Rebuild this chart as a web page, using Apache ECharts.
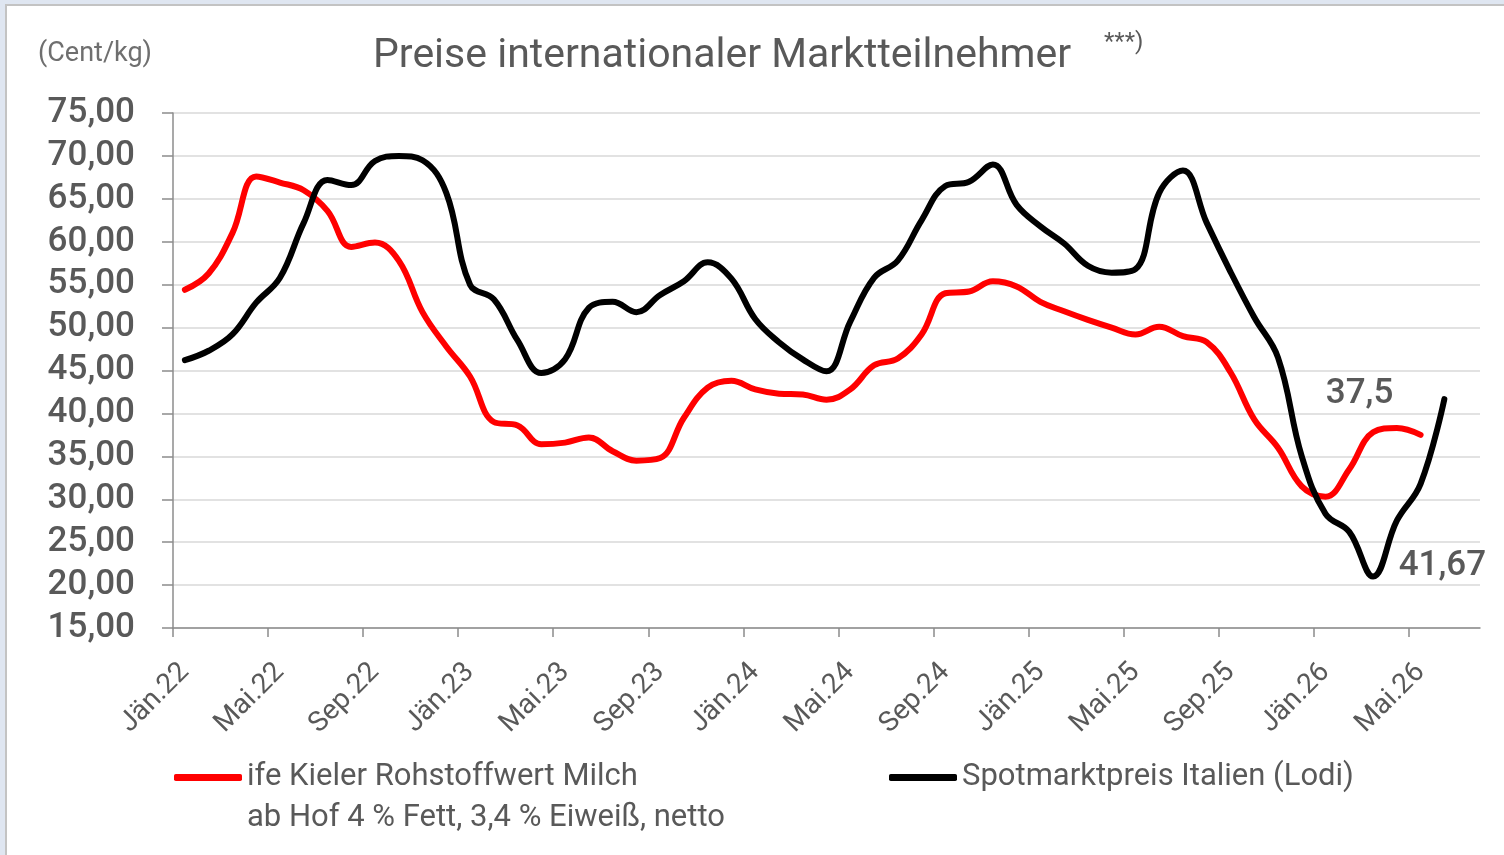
<!DOCTYPE html>
<html>
<head>
<meta charset="utf-8">
<title>Preise internationaler Marktteilnehmer</title>
<script src="https://cdn.jsdelivr.net/npm/echarts@6/dist/echarts.min.js"></script>
<style>
html, body { margin: 0; padding: 0; background: #dfe6f1; }
#frame { position: absolute; left: 5px; top: 4px; width: 1499px; height: 851px; background: #fff;
         border-left: 2px solid #c3c3c3; border-top: 2px solid #c3c3c3; box-sizing: border-box; }
#main { position: absolute; left: 0; top: 0; width: 1504px; height: 855px; }
</style>
</head>
<body>
<div id="frame"></div>
<div id="main"></div>
<script>
var myChart = echarts.init(document.getElementById('main'));

// Monate (Achse), ein Punkt je Monat in der Monatsmitte
var months = [
    'Jän.22', 'Feb.22', 'Mär.22', 'Apr.22', 'Mai.22', 'Jun.22', 'Jul.22', 'Aug.22', 'Sep.22', 'Okt.22', 'Nov.22', 'Dez.22',
    'Jän.23', 'Feb.23', 'Mär.23', 'Apr.23', 'Mai.23', 'Jun.23', 'Jul.23', 'Aug.23', 'Sep.23', 'Okt.23', 'Nov.23', 'Dez.23',
    'Jän.24', 'Feb.24', 'Mär.24', 'Apr.24', 'Mai.24', 'Jun.24', 'Jul.24', 'Aug.24', 'Sep.24', 'Okt.24', 'Nov.24', 'Dez.24',
    'Jän.25', 'Feb.25', 'Mär.25', 'Apr.25', 'Mai.25', 'Jun.25', 'Jul.25', 'Aug.25', 'Sep.25', 'Okt.25', 'Nov.25', 'Dez.25',
    'Jän.26', 'Feb.26', 'Mär.26', 'Apr.26', 'Mai.26', 'Jun.26', 'Jul.26'
];

// ife Kieler Rohstoffwert Milch (Cent/kg)
var kieler = [
    54.4, 56.3, 61.0, 67.6, 66.9, 66.0, 63.6, 59.4, 59.9, 57.8, 51.8, 47.8,
    44.3, 39.0, 38.6, 36.4, 36.6, 37.2, 35.6, 34.5, 34.8, 39.5, 43.0, 43.8,
    42.8, 42.3, 42.2, 41.6, 42.8, 45.6, 46.4, 49.2, 54.0, 54.2, 55.4, 54.8,
    53.0, 51.9, 50.9, 50.0, 49.2, 50.1, 49.0, 48.3, 44.8, 39.3, 36.0, 31.5,
    30.3, 33.5, 37.8, 38.3, 37.5
];

// Spotmarktpreis Italien (Lodi) (Cent/kg)
var lodi = [
    46.2, 47.3, 49.2, 52.9, 55.8, 62.2, 67.2, 66.6, 69.4, 70.0, 69.5, 65.7,
    55.0, 53.3, 48.5, 44.7, 46.3, 52.3, 53.0, 51.8, 53.8, 55.4, 57.6, 55.7,
    51.0, 48.3, 46.3, 44.9, 50.7, 55.8, 57.8, 62.5, 66.5, 67.0, 69.0, 64.3,
    61.8, 59.8, 57.2, 56.4, 56.8, 65.7, 68.3, 62.2, 56.5, 51.2, 46.5, 35.0,
    28.3, 26.2, 21.0, 27.5, 31.8, 41.67
];

var kielerName = 'ife Kieler Rohstoffwert Milch\nab Hof 4 % Fett, 3,4 % Eiweiß, netto';
var lodiName = 'Spotmarktpreis Italien (Lodi)';

var fontFamily = 'Roboto';
var textGrey = '#595959';
var axisGrey = '#8c8c8c';

// Striche jeden 4. Monat, Beschriftung in der Monatsmitte
var tickValues = months.map(function (m, i) { return i; }).filter(function (i) { return i % 4 === 0; });
var labelValues = tickValues.map(function (i) { return i + 0.5; });

function toPoints(values, labelOffset) {
    return values.map(function (v, i) {
        var p = { value: [i + 0.5, v] };
        if (i === values.length - 1) {
            p.label = {
                show: true,
                position: 'inside',
                offset: labelOffset,
                formatter: function (params) {
                    return String(params.value[1]).replace('.', ',');
                },
                fontFamily: fontFamily,
                fontWeight: 500,
                fontSize: 35,
                color: textGrey
            };
        }
        return p;
    });
}

var legendText = { color: textGrey, fontFamily: fontFamily, fontSize: 31, lineHeight: 31 };

option = {
    animation: false,
    graphic: [
        {
            type: 'text', left: 373, top: 36,
            style: { text: 'Preise internationaler Marktteilnehmer', font: '41px ' + fontFamily, fill: textGrey }
        },
        {
            type: 'text', left: 1104, top: 31,
            style: { text: '***)', font: '24px ' + fontFamily, fill: textGrey }
        },
        {
            type: 'text', left: 38, top: 41,
            style: { text: '(Cent/kg)', font: '27px ' + fontFamily, fill: '#6f6f6f' }
        },
        {
            type: 'text', left: 247, top: 803,
            style: { text: kielerName.split('\n')[1], font: '31px ' + fontFamily, fill: textGrey }
        }
    ],
    legend: [
        {
            data: [kielerName], left: 174, top: 762, padding: 0,
            itemWidth: 68, itemHeight: 7, icon: 'roundRect', selectedMode: false,
            formatter: function (name) { return name.split('\n')[0]; },
            textStyle: legendText
        },
        {
            data: [lodiName], left: 889, top: 762, padding: 0,
            itemWidth: 68, itemHeight: 7, icon: 'roundRect', selectedMode: false,
            textStyle: legendText
        }
    ],
    grid: {
        left: 173,
        right: 24,
        top: 113,
        bottom: 227
    },
    xAxis: {
        type: 'value',
        min: 0,
        max: months.length,
        axisLine: { lineStyle: { color: axisGrey, width: 1.5 } },
        axisTick: { show: true, length: 9, customValues: tickValues, lineStyle: { color: axisGrey, width: 1.5 } },
        axisLabel: {
            customValues: labelValues,
            formatter: function (v) { return months[Math.floor(v)]; },
            rotate: 45,
            margin: 40,
            padding: [4, 0, 0, 0],
            fontFamily: fontFamily,
            fontSize: 28,
            color: textGrey
        },
        splitLine: { show: false }
    },
    yAxis: {
        type: 'value',
        min: 15,
        max: 75,
        interval: 5,
        axisLine: { show: true, lineStyle: { color: axisGrey, width: 1.5 } },
        axisTick: { show: true, length: 11, lineStyle: { color: axisGrey, width: 1.5 } },
        axisLabel: {
            formatter: function (v) { return v.toFixed(2).replace('.', ','); },
            margin: 38,
            fontFamily: fontFamily,
            fontWeight: 500,
            fontSize: 35,
            color: textGrey
        },
        splitLine: { lineStyle: { color: '#d9d9d9', width: 1.5 } }
    },
    series: [
        {
            name: kielerName,
            type: 'line',
            smooth: 0.4,
            symbol: 'circle',
            symbolSize: 0,
            showSymbol: true,
            itemStyle: { color: '#ff0000' },
            lineStyle: { color: '#ff0000', width: 6, cap: 'round' },
            data: toPoints(kieler, [-61, -41])
        },
        {
            name: lodiName,
            type: 'line',
            smooth: 0.4,
            symbol: 'circle',
            symbolSize: 0,
            showSymbol: true,
            itemStyle: { color: '#000000' },
            lineStyle: { color: '#000000', width: 6, cap: 'round' },
            data: toPoints(lodi, [-2, 167])
        }
    ]
};
myChart.setOption(option);
</script>
</body>
</html>
